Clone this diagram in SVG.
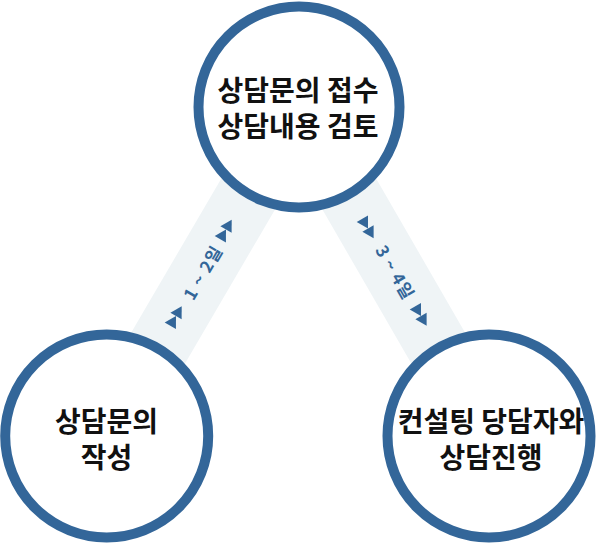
<svg xmlns="http://www.w3.org/2000/svg" xmlns:xlink="http://www.w3.org/1999/xlink" width="598" height="543" viewBox="0 0 598 543">
<style>
.band{stroke:#eff4f6;stroke-width:62;fill:none}
.node{fill:#fff;stroke:#336699;stroke-width:10}
.lbl{font-family:"Noto Sans CJK KR","Noto Sans",sans-serif;font-weight:700;font-size:28px;fill:#111;text-anchor:middle}
.dur{font-family:"Noto Sans CJK KR","Noto Sans",sans-serif;font-weight:700;font-size:17px;letter-spacing:1px;fill:#336699;text-anchor:middle;dominant-baseline:central}
.tri{fill:#336699}
</style>
<defs>
<g id="dbl">
<polygon class="tri" points="-11.3,-6.5 -11.3,6.5 0,0"/>
<polygon class="tri" points="0,-6.5 0,6.5 11.3,0"/>
</g>
</defs>
<rect width="598" height="543" fill="#fff"/>
<g id="connectors">
<line class="band" x1="299" y1="107" x2="106.7" y2="436"/>
<line class="band" x1="299" y1="107" x2="489" y2="436"/>
<use xlink:href="#dbl" transform="translate(226,229.5) rotate(-59.7)"/>
<use xlink:href="#dbl" transform="translate(176,316) rotate(-59.7)"/>
<text class="dur" transform="translate(202,272) rotate(-59.7)">1 ~ 2일</text>
<use xlink:href="#dbl" transform="translate(368,228.5) rotate(60)"/>
<use xlink:href="#dbl" transform="translate(421,316) rotate(60)"/>
<text class="dur" transform="translate(396,272) rotate(60)">3 ~ 4일</text>
</g>
<g id="node-top">
<circle class="node" cx="299" cy="107" r="100.5"/>
<text class="lbl" x="298" y="101">상담문의 접수</text>
<text class="lbl" x="298" y="137">상담내용 검토</text>
</g>
<g id="node-left">
<circle class="node" cx="106.7" cy="436" r="101.5"/>
<text class="lbl" x="106.5" y="432">상담문의</text>
<text class="lbl" x="106.5" y="468">작성</text>
</g>
<g id="node-right">
<circle class="node" cx="489" cy="436" r="101.5"/>
<text class="lbl" x="491" y="432">컨설팅 당담자와</text>
<text class="lbl" x="491" y="468">상담진행</text>
</g>
</svg>
